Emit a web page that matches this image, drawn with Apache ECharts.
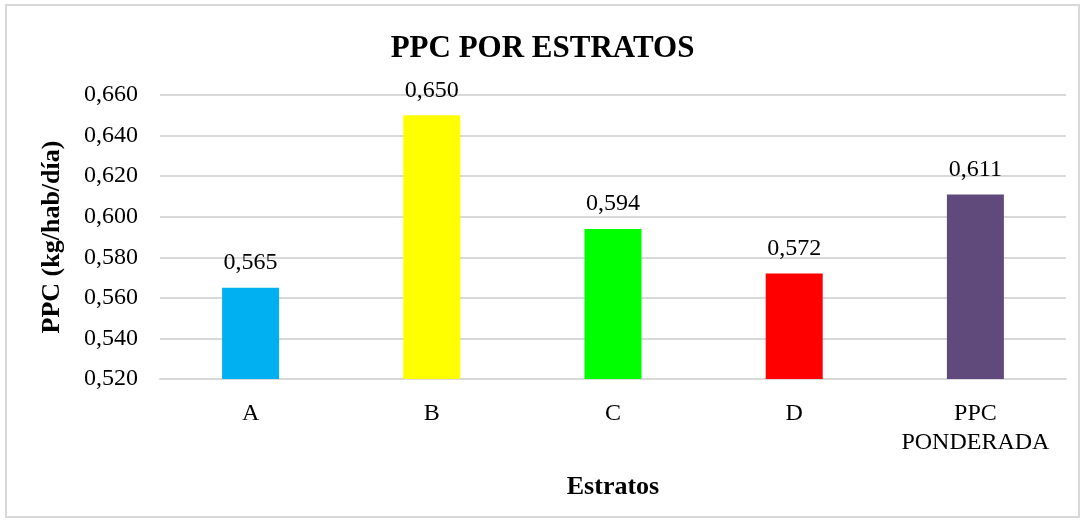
<!DOCTYPE html>
<html>
<head>
<meta charset="utf-8">
<script src="https://cdn.jsdelivr.net/npm/echarts@6/dist/echarts.min.js"></script>
<style>
  html, body { margin: 0; padding: 0; background: #fff; }
  #chart {
    position: absolute;
    left: 5px; top: 4px;
    width: 1075px; height: 514px;
    border: 2px solid #d9d9d9;
    box-sizing: border-box;
  }
</style>
</head>
<body>
<div id="chart"></div>
<script>
// categorias y valores
const categorias = ['A', 'B', 'C', 'D', 'PPC\nPONDERADA']
const valores = [0.565, 0.650, 0.594, 0.572, 0.611]
const colores = ['#00B0F0', '#FFFF00', '#00FF00', '#FF0000', '#604A7B']

const fuente = '"Liberation Serif", "Times New Roman", serif'
const fmt = v => v.toFixed(3).replace('.', ',')

const chart = echarts.init(document.getElementById('chart'))
chart.setOption({
  animation: false,
  textStyle: { fontFamily: fuente },
  title: {
    text: 'PPC POR ESTRATOS',
    left: 'center',
    top: 22,
    textStyle: { fontFamily: fuente, fontSize: 31, fontWeight: 'bold', color: '#000' }
  },
  grid: { left: 153, right: 12, top: 89, bottom: 137 },
  xAxis: {
    type: 'category',
    data: categorias,
    name: 'Estratos',
    nameLocation: 'middle',
    nameGap: 95,
    nameTextStyle: { fontFamily: fuente, fontSize: 26, fontWeight: 'bold', color: '#000' },
    axisTick: { show: false },
    axisLine: { lineStyle: { color: '#d9d9d9', width: 2 } },
    axisLabel: { interval: 0, fontFamily: fuente, fontSize: 24, color: '#000', margin: 20, lineHeight: 29 }
  },
  yAxis: {
    type: 'value',
    min: 0.52,
    max: 0.66,
    interval: 0.02,
    name: 'PPC (kg/hab/día)',
    nameLocation: 'middle',
    nameGap: 95,
    nameTextStyle: { fontFamily: fuente, fontSize: 26, fontWeight: 'bold', color: '#000' },
    axisLine: { show: false },
    axisTick: { show: false },
    splitLine: { lineStyle: { color: '#d9d9d9', width: 2 } },
    axisLabel: { fontFamily: fuente, fontSize: 24, color: '#000', margin: 22, formatter: fmt }
  },
  series: [{
    type: 'bar',
    barWidth: 57,
    data: valores.map((v, i) => ({ value: v, itemStyle: { color: colores[i] } })),
    label: {
      show: true,
      position: 'top',
      distance: 13,
      fontFamily: fuente,
      fontSize: 24,
      color: '#000',
      formatter: p => fmt(p.value)
    }
  }]
})
</script>
</body>
</html>
